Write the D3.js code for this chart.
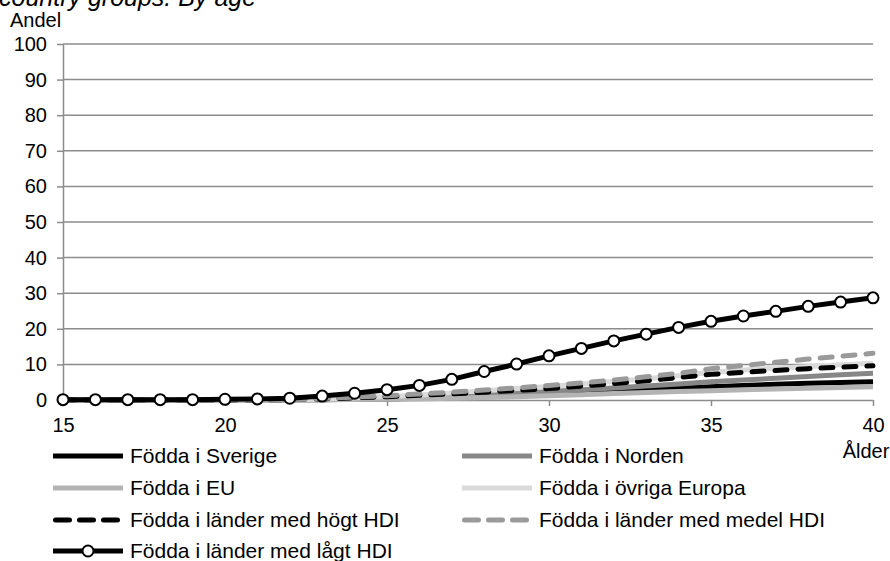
<!DOCTYPE html>
<html>
<head>
<meta charset="utf-8">
<script src="https://cdn.jsdelivr.net/npm/d3@7"></script>
<style>
  body { margin: 0; background: #fff; }
  svg { font-family: "Liberation Sans", Arial, sans-serif; }
</style>
</head>
<body>
<div id="chart"></div>
<script>

// ages on the x axis
var ages = d3.range(15, 41);

var sverige = [0,0,0,0,0,0,0,0.05,0.1,0.2,0.3,0.5,0.7,1.0,1.3,1.6,2.0,2.4,2.8,3.3,3.7,4.1,4.4,4.7,4.9,5.1];
var norden  = [0,0,0,0,0,0,0,0.1,0.2,0.4,0.6,0.9,1.2,1.6,2.0,2.4,2.9,3.4,3.9,4.5,5.1,5.6,6.1,6.6,7.1,7.5];
var eu      = [0,0,0,0,0,0,0,0.05,0.1,0.15,0.2,0.3,0.5,0.7,0.9,1.2,1.5,1.8,2.1,2.4,2.6,2.9,3.1,3.3,3.5,3.7];
var ovriga  = [0,0,0,0,0,0,0,0.1,0.3,0.6,1.0,1.4,2.0,2.6,3.2,3.8,4.5,5.2,6.0,6.8,7.8,8.4,8.9,9.4,9.9,10.3];
var hogt    = [0,0,0,0,0,0,0,0.1,0.3,0.6,0.9,1.3,1.7,2.2,2.7,3.2,3.9,4.6,5.4,6.3,7.2,7.8,8.3,8.8,9.2,9.6];
var medel   = [0,0,0,0,0,0,0,0.1,0.4,0.8,1.2,1.7,2.2,2.8,3.4,4.1,4.8,5.6,6.5,7.5,8.8,9.7,10.6,11.5,12.3,13.1];
var lagt    = [0.1,0.1,0.1,0.1,0.1,0.2,0.3,0.5,1.1,1.9,2.9,4.1,5.8,8.0,10.1,12.4,14.5,16.6,18.5,20.4,22.1,23.6,24.9,26.3,27.5,28.7];

var yTicks = [0,10,20,30,40,50,60,70,80,90,100];
var xTicks = [15,20,25,30,35,40];

var series = [
  {name: "Födda i Sverige", values: sverige, color: "#000000", dash: null, col: 0, row: 0},
  {name: "Födda i Norden", values: norden, color: "#878787", dash: null, col: 1, row: 0},
  {name: "Födda i EU", values: eu, color: "#b4b4b4", dash: null, col: 0, row: 1},
  {name: "Födda i övriga Europa", values: ovriga, color: "#dadada", dash: null, col: 1, row: 1},
  {name: "Födda i länder med högt HDI", values: hogt, color: "#000000", dash: "12,11", col: 0, row: 2},
  {name: "Födda i länder med medel HDI", values: medel, color: "#9a9a9a", dash: "12,11", col: 1, row: 2},
  {name: "Födda i länder med lågt HDI", values: lagt, color: "#000000", dash: null, col: 0, row: 3, marker: true}
];

var W = 890, H = 561;
var svg = d3.select("#chart").append("svg").attr("width", W).attr("height", H);

var x = d3.scaleLinear().domain([15, 40]).range([63, 873]);
var y = d3.scaleLinear().domain([0, 100]).range([400, 44]);

// cut-off title at the top
svg.append("text")
  .attr("x", -1).attr("y", 6)
  .attr("font-size", 25).attr("font-style", "italic")
  .text("country groups. By age");

svg.append("text")
  .attr("x", 10).attr("y", 27)
  .attr("font-size", 20)
  .text("Andel");

// gridlines
svg.append("g").selectAll("line")
  .data(yTicks.filter(d => d > 0))
  .enter().append("line")
  .attr("x1", x(15)).attr("x2", x(40))
  .attr("y1", d => y(d)).attr("y2", d => y(d))
  .attr("stroke", "#8c8c8c").attr("stroke-width", 1.5);

var yAxis = svg.append("g")
  .attr("transform", `translate(${x(15)},0)`)
  .call(d3.axisLeft(y).tickValues(yTicks).tickSize(6).tickPadding(10).tickSizeOuter(0));

var xAxis = svg.append("g")
  .attr("transform", `translate(0,${y(0)})`)
  .call(d3.axisBottom(x).tickValues(xTicks).tickSize(6).tickPadding(12).tickSizeOuter(0));

[yAxis, xAxis].forEach(function(a) {
  a.selectAll("path, line").attr("stroke", "#8c8c8c").attr("stroke-width", 1.5);
  a.selectAll("text").attr("font-size", 20).attr("fill", "#000")
    .attr("font-family", "Liberation Sans, Arial, sans-serif");
});

svg.append("text")
  .attr("x", 866).attr("y", 458)
  .attr("text-anchor", "middle").attr("font-size", 20)
  .text("Ålder");

var line = d3.line()
  .x((d, i) => x(ages[i]))
  .y(d => y(d));

svg.append("g").selectAll("path")
  .data(series)
  .enter().append("path")
  .attr("d", d => line(d.values))
  .attr("fill", "none")
  .attr("stroke", d => d.color)
  .attr("stroke-width", 5)
  .attr("stroke-linecap", d => d.dash ? "round" : "butt")
  .attr("stroke-dasharray", d => d.dash);

var low = series[6];
svg.append("g").selectAll("circle")
  .data(low.values)
  .enter().append("circle")
  .attr("cx", (d, i) => x(ages[i]))
  .attr("cy", d => y(d))
  .attr("r", 5.5)
  .attr("fill", "#fff").attr("stroke", "#000").attr("stroke-width", 2);

// legend
var colX = [53, 462], rowY = [456, 488, 520, 551];
var leg = svg.append("g").selectAll("g")
  .data(series)
  .enter().append("g")
  .attr("transform", d => `translate(${colX[d.col]},${rowY[d.row]})`);

leg.append("line")
  .attr("x1", d => d.dash ? 2.5 : 0).attr("x2", 70)
  .attr("stroke", d => d.color)
  .attr("stroke-width", 5)
  .attr("stroke-linecap", d => d.dash ? "round" : "butt")
  .attr("stroke-dasharray", d => d.dash ? "14,10" : null);

leg.filter(d => d.marker).append("circle")
  .attr("cx", 35).attr("r", 5.5)
  .attr("fill", "#fff").attr("stroke", "#000").attr("stroke-width", 2);

leg.append("text")
  .attr("x", 77)
  .attr("y", 0).attr("dy", "0.35em")
  .attr("font-size", 21)
  .text(d => d.name);

</script>
</body>
</html>
